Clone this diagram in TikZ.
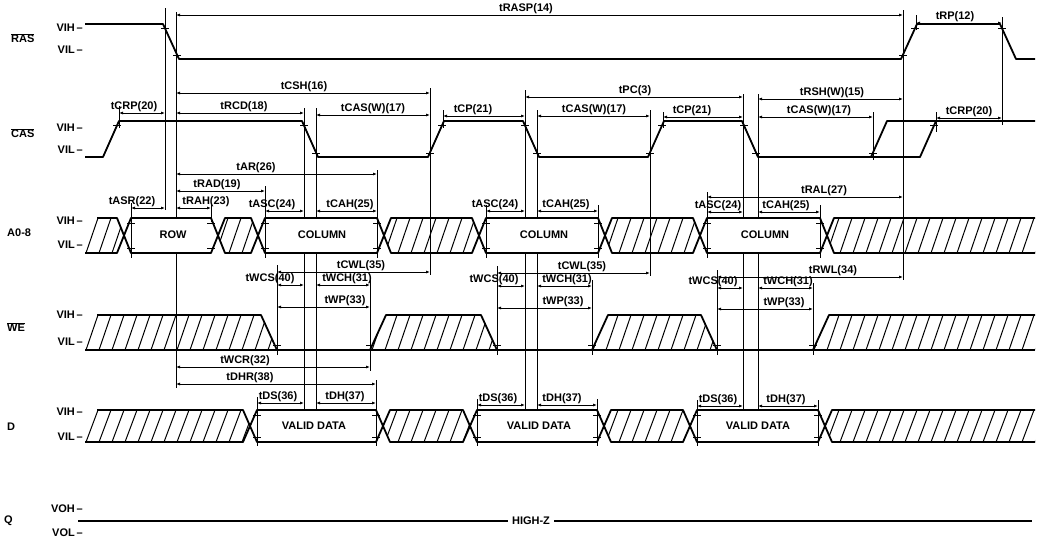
\documentclass[tikz,border=0pt]{standalone}
\usepackage{fontspec}
\setmainfont{Liberation Sans}
\usetikzlibrary{arrows.meta}
\newcommand\lblfont{\fontsize{11}{12}\selectfont\bfseries}
% hatch lines inside a clip path: #1 path, #2 top y, #3 bottom y
\newcommand\hatchin[3]{%
  \begin{scope}
    \clip #1;
    \foreach \h in {60,73,...,1040}
      \draw[hatchln] (\h,#3) -- ({\h+12},#2);
  \end{scope}}

\begin{document}
\begin{tikzpicture}[x=1pt,y=-1pt,
    sig/.style={line width=1.8pt,line join=round},
    hatchln/.style={line width=1pt},
    refln/.style={line width=0.8pt},
    validbox/.style={fill=white},
    dim/.style={line width=0.8pt,{Latex[length=4pt,width=3pt]}-{Latex[length=4pt,width=3pt]}},
    lbl/.style={font=\lblfont,inner sep=1pt},
    tlbl/.style={font=\lblfont,inner sep=0.6pt,above}]
  \useasboundingbox (0,0) rectangle (1040,542);

  % signal names and levels
  \node[lbl,anchor=west] (ras) at (10,38) {$\overline{\mbox{RAS}}$};
  \node[lbl,anchor=west] (cas) at (10,133) {$\overline{\mbox{CAS}}$};
  \node[lbl,anchor=west] (addr) at (6,233) {A0-8};
  \node[lbl,anchor=west] (we) at (6,327) {$\overline{\mbox{WE}}$};
  \node[lbl,anchor=west] (din) at (6,427) {D};
  \node[lbl,anchor=west] (qout) at (3,521) {Q};
  \foreach \y/\t [count=\i] in {28/VIH,50/VIL,128/VIH,150/VIL,221/VIH,245/VIL,
      315/VIH,342/VIL,412/VIH,437/VIL,509/VOH,533/VOL}
    \node[lbl,anchor=east] (lv\i) at (84,\y) {\t\,--};

  % long reference lines (hidden behind the valid boxes)
  \foreach \x/\a/\b in {165/8/210,176/12/388,119/106/128,304/108/410,316/108/410,430/88/275,
      443/110/128,525/90/410,537/110/410,650/110/276,663/112/128,743/94/410,758/94/410,
      873/112/160,903/10/280,916/15/30,1002/17/125,936/112/132,
      277/265/355,370/280/371,497/266/355,592/280/355,717/270/355,813/283/355}
    \draw[refln] (\x,\a) -- (\x,\b);

  % valid boxes
  \fill[validbox] (124,235.5) -- (131,218) -- (211,218) -- (218,235.5) -- (211,253) -- (131,253) -- cycle;
  \fill[validbox] (258,235.5) -- (265,218) -- (377,218) -- (384,235.5) -- (377,253) -- (265,253) -- cycle;
  \fill[validbox] (479,235.5) -- (486,218) -- (598,218) -- (605,235.5) -- (598,253) -- (486,253) -- cycle;
  \fill[validbox] (700,235.5) -- (707,218) -- (820,218) -- (827,235.5) -- (820,253) -- (707,253) -- cycle;
  \fill[validbox] (250,426) -- (257,410) -- (376,410) -- (383,426) -- (376,442) -- (257,442) -- cycle;
  \fill[validbox] (470,426) -- (477,410) -- (597,410) -- (604,426) -- (597,442) -- (477,442) -- cycle;
  \fill[validbox] (690,426) -- (697,410) -- (818,410) -- (825,426) -- (818,442) -- (697,442) -- cycle;

  % reference lines at the box ends
  \foreach \x/\a/\b in {131/203/258,211/203/222,265/186/258,377/170/258,486/205/258,
      598/205/258,707/192/258,820/205/258,
      376/380/446,257/397/446,477/399/446,597/399/446,697/400/446,818/400/446}
    \draw[refln] (\x,\a) -- (\x,\b);

  % RAS and CAS
  \draw[sig] (85,24) -- (163,24) -- (179,59) -- (901,59) -- (917,24) -- (1000,24) -- (1016,59) -- (1035,59);
  \draw[sig] (85,157) -- (103,157) -- (119,121) -- (302,121) -- (318,157) -- (428,157) -- (444,121)
    -- (523,121) -- (539,157) -- (648,157) -- (664,121) -- (742,121) -- (758,157) -- (920,157)
    -- (936,121) -- (1035,121);
  \draw[sig] (871,157) -- (887,121) -- (936,121);

  % A0-8
  \hatchin{(85,253) -- (97,218) -- (117,218) -- (124,235.5) -- (117,253) -- cycle}{218}{253}
  \hatchin{(218,235.5) -- (225,218) -- (251,218) -- (258,235.5) -- (251,253) -- (225,253) -- cycle}{218}{253}
  \hatchin{(384,235.5) -- (391,218) -- (472,218) -- (479,235.5) -- (472,253) -- (391,253) -- cycle}{218}{253}
  \hatchin{(605,235.5) -- (612,218) -- (693,218) -- (700,235.5) -- (693,253) -- (612,253) -- cycle}{218}{253}
  \hatchin{(827,235.5) -- (834,218) -- (1035,218) -- (1035,253) -- (834,253) -- cycle}{218}{253}
  \draw[sig] (97,218) -- (117,218) -- (131,253) -- (211,253) -- (225,218) -- (251,218) -- (265,253)
    -- (377,253) -- (391,218) -- (472,218) -- (486,253) -- (598,253) -- (612,218) -- (693,218)
    -- (707,253) -- (820,253) -- (834,218) -- (1035,218);
  \draw[sig] (85,253) -- (117,253) -- (131,218) -- (211,218) -- (225,253) -- (251,253) -- (265,218)
    -- (377,218) -- (391,253) -- (472,253) -- (486,218) -- (598,218) -- (612,253) -- (693,253)
    -- (707,218) -- (820,218) -- (834,253) -- (1035,253);
  \node[lbl] (row) at (173,235) {ROW};
  \node[lbl] (col1) at (322,235) {COLUMN};
  \node[lbl] (col2) at (544,235) {COLUMN};
  \node[lbl] (col3) at (765,235) {COLUMN};

  % WE
  \hatchin{(85,350) -- (97,315) -- (261,315) -- (277,350) -- cycle}{315}{350}
  \hatchin{(370,350) -- (386,315) -- (481,315) -- (497,350) -- cycle}{315}{350}
  \hatchin{(592,350) -- (608,315) -- (701,315) -- (717,350) -- cycle}{315}{350}
  \hatchin{(813,350) -- (829,315) -- (1035,315) -- (1035,350) -- cycle}{315}{350}
  \draw[sig] (85,350) -- (1035,350);
  \draw[sig] (97,315) -- (261,315) -- (277,350);
  \draw[sig] (370,350) -- (386,315) -- (481,315) -- (497,350);
  \draw[sig] (592,350) -- (608,315) -- (701,315) -- (717,350);
  \draw[sig] (813,350) -- (829,315) -- (1035,315);

  % D
  \hatchin{(85,442) -- (97,410) -- (243,410) -- (250,426) -- (243,442) -- cycle}{410}{442}
  \hatchin{(383,426) -- (390,410) -- (463,410) -- (470,426) -- (463,442) -- (390,442) -- cycle}{410}{442}
  \hatchin{(604,426) -- (611,410) -- (683,410) -- (690,426) -- (683,442) -- (611,442) -- cycle}{410}{442}
  \hatchin{(825,426) -- (832,410) -- (1035,410) -- (1035,442) -- (832,442) -- cycle}{410}{442}
  \draw[sig] (97,410) -- (243,410) -- (257,442) -- (376,442) -- (390,410) -- (463,410) -- (477,442)
    -- (597,442) -- (611,410) -- (683,410) -- (697,442) -- (818,442) -- (832,410) -- (1035,410);
  \draw[sig] (85,442) -- (243,442) -- (257,410) -- (376,410) -- (390,442) -- (463,442) -- (477,410)
    -- (597,410) -- (611,442) -- (683,442) -- (697,410) -- (818,410) -- (832,442) -- (1035,442);
  \node[lbl] (vd1) at (314,426) {VALID DATA};
  \node[lbl] (vd2) at (539,426) {VALID DATA};
  \node[lbl] (vd3) at (758,426) {VALID DATA};

  % Q
  \coordinate (qa) at (78,521);
  \coordinate (qb) at (1032,521);
  \node[lbl,inner sep=4pt] (hz) at (531,521) {HIGH-Z};
  \draw[line width=1.4pt] (qa) -- (hz.west);
  \draw[line width=1.4pt] (hz.east) -- (qb);

  % crossing ticks
  \foreach \x/\y in {165/28,177/55,903/55,915/28,1002/28,117/125,304/125,316/153,430/153,
      442/125,525/125,537/153,650/153,662/125,744/125,756/153,873/153,934/125,
      277/345,370/345,497/345,592/345,717/345,813/345}
    \draw[refln] ({\x-4},\y) -- ({\x+4},\y);
  \foreach \x in {131,211,265,377,486,598,707,820}
    \foreach \y in {223,248}
      \draw[refln] ({\x-4},\y) -- ({\x+4},\y);
  \foreach \x in {257,376,477,597,697,818}
    \foreach \y in {415,437}
      \draw[refln] ({\x-4},\y) -- ({\x+4},\y);

  % timing parameters
  \foreach \a/\b/\y/\c/\t [count=\i] in {176/903/15/526/tRASP(14),916/1002/23/955/tRP(12),
      176/430/93/304/tCSH(16),176/304/113/244/tRCD(18),316/430/115/373/tCAS(W)(17),
      443/525/116/473/tCP(21),525/743/97/635/tPC(3),537/650/116/594/tCAS(W)(17),
      663/743/117/692/tCP(21),758/903/99/832/tRSH(W)(15),758/873/117/819/tCAS(W)(17),
      119/165/113/134/tCRP(20),936/1002/118/969/tCRP(20),
      176/377/174/256/tAR(26),176/265/191/217/tRAD(19),131/165/208/132/tASR(22),
      176/211/208/206/tRAH(23),265/304/211/272/tASC(24),316/377/211/350/tCAH(25),
      486/525/211/495/tASC(24),537/598/211/566/tCAH(25),707/903/197/824/tRAL(27),
      707/743/212/718/tASC(24),758/820/212/786/tCAH(25),
      277/430/272/361/tCWL(35),497/650/273/582/tCWL(35),717/903/277/833/tRWL(34),
      277/304/285/270/tWCS(40),316/370/285/347/tWCH(31),277/370/307/345/tWP(33),
      497/525/286/494/tWCS(40),537/592/286/567/tWCH(31),497/592/308/563/tWP(33),
      717/743/288/713/tWCS(40),758/813/288/788/tWCH(31),717/813/309/784/tWP(33),
      176/370/367/245/tWCR(32),176/376/384/250/tDHR(38),
      257/304/403/278/tDS(36),316/376/403/345/tDH(37),477/525/405/498/tDS(36),
      537/597/405/562/tDH(37),697/743/406/718/tDS(36),758/818/406/786/tDH(37)}
  {
    \draw[dim] (\a,\y) -- (\b,\y);
    \node[tlbl] (tp\i) at (\c,\y) {\t};
  }
\end{tikzpicture}
\end{document}
